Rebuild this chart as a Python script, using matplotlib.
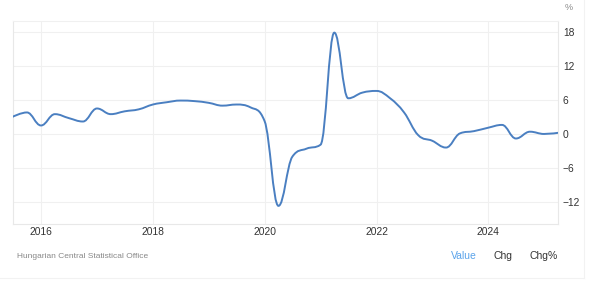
import matplotlib
matplotlib.use("Agg")
import matplotlib.pyplot as plt
import matplotlib.dates as mdates
from matplotlib.path import Path
from matplotlib.patches import PathPatch
from matplotlib.lines import Line2D
import numpy as np
import pandas as pd

# ---- data ----
dates = pd.date_range("2015-06-30", periods=40, freq="QE")
values = [3.05, 3.8, 1.5, 3.5, 2.8, 2.2, 4.5, 3.5, 4.0, 4.35,
          5.2, 5.6, 5.9, 5.8, 5.5, 5.0, 5.2, 4.7, 2.3, -12.7,
          -4.0, -2.6, -1.9, 17.9, 6.3, 7.3, 7.6, 6.3, 3.8, -0.2,
          -1.2, -2.4, 0.1, 0.5, 1.1, 1.6, -0.8, 0.4, 0.0, 0.2]
y_ticks = [-12, -6, 0, 6, 12, 18]
unit_label = "%"
source_text = "Hungarian Central Statistical Office"
buttons = ["Value", "Chg", "Chg%"]

LINE = "#4a7fc1"
GRID = "#f0f0f0"
TXT = "#333333"

plt.rcParams["font.family"] = ["Liberation Sans", "DejaVu Sans"]

fig = plt.figure(figsize=(6.01, 2.99), dpi=100)
ax = fig.add_axes([13 / 601, 1 - 224 / 299, (558 - 13) / 601, (224 - 21) / 299])

x = mdates.date2num(dates.to_pydatetime())
y = np.array(values, dtype=float)


def spline_path(xs, ys, smoothing=1.5):
    n = len(xs)
    left = [(xs[i], ys[i]) for i in range(n)]
    right = [(xs[i], ys[i]) for i in range(n)]
    den = smoothing + 1
    for i in range(1, n - 1):
        px, py = xs[i], ys[i]
        lx, ly = xs[i - 1], ys[i - 1]
        nx, ny = xs[i + 1], ys[i + 1]
        lcx = (smoothing * px + lx) / den
        lcy = (smoothing * py + ly) / den
        rcx = (smoothing * px + nx) / den
        rcy = (smoothing * py + ny) / den
        if rcx != lcx:
            corr = ((rcy - lcy) * (rcx - px)) / (rcx - lcx) + py - rcy
            lcy += corr
            rcy += corr
        if lcy > ly and lcy > py:
            lcy = max(ly, py); rcy = 2 * py - lcy
        elif lcy < ly and lcy < py:
            lcy = min(ly, py); rcy = 2 * py - lcy
        if rcy > ny and rcy > py:
            rcy = max(ny, py); lcy = 2 * py - rcy
        elif rcy < ny and rcy < py:
            rcy = min(ny, py); lcy = 2 * py - rcy
        left[i] = (lcx, lcy)
        right[i] = (rcx, rcy)
    verts = [(xs[0], ys[0])]
    codes = [Path.MOVETO]
    for i in range(1, n):
        verts += [right[i - 1], left[i], (xs[i], ys[i])]
        codes += [Path.CURVE4] * 3
    return Path(verts, codes)


ax.add_patch(PathPatch(spline_path(x, y), fill=False, edgecolor=LINE,
                       lw=1.4, capstyle="round", joinstyle="round", zorder=3))

ax.set_xlim(mdates.date2num(pd.Timestamp("2015-07-01")),
            mdates.date2num(pd.Timestamp("2025-04-01")))
ax.set_ylim(-15.9, 19.95)

ax.xaxis.set_major_locator(mdates.YearLocator(2))
ax.xaxis.set_major_formatter(mdates.DateFormatter("%Y"))
ax.set_yticks(y_ticks)
ax.yaxis.tick_right()
ax.grid(True, color=GRID, lw=0.8)
ax.set_axisbelow(True)
for s in ["left", "right", "top", "bottom"]:
    ax.spines[s].set_color("#e8e8e8")
    ax.spines[s].set_linewidth(0.8)
ax.spines["top"].set_color(GRID)
ax.tick_params(axis="both", length=0, colors=TXT, labelsize=7.4)
ax.tick_params(axis="y", pad=3.5)
ax.tick_params(axis="x", pad=2.5)

fig.text(569 / 601, 1 - 7 / 299, unit_label, fontsize=6.5, color="#888888",
         ha="center", va="center")
fig.text(17 / 601, 1 - 256 / 299, source_text, fontsize=6.0, color="#888888",
         ha="left", va="center")
bx = [451, 494, 529]
bcol = ["#5aa3ea", TXT, TXT]
for b, xx, c in zip(buttons, bx, bcol):
    fig.text(xx / 601, 1 - 256 / 299, b, fontsize=7.5, color=c, ha="left", va="center")

# container border
fig.add_artist(Line2D([0, 584 / 601], [1 - 278 / 299] * 2, transform=fig.transFigure,
                      color="#f2f2f2", lw=0.8))
fig.add_artist(Line2D([584 / 601] * 2, [1 - 278 / 299, 1.0], transform=fig.transFigure,
                      color="#f2f2f2", lw=0.8))

fig.savefig("out.png", dpi=100, facecolor="white")
